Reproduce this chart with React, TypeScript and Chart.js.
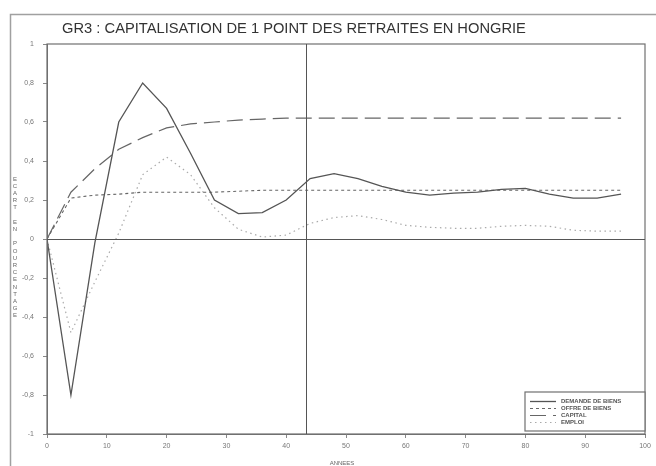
import React, { useEffect, useRef } from "react";
import { Chart, registerables } from "chart.js";

Chart.register(...registerables);

const TITLE = "GR3 : CAPITALISATION DE 1 POINT DES RETRAITES EN HONGRIE";
const Y_LABEL = "ECART EN POURCENTAGE";
const X_LABEL = "ANNEES";
const VLINE_YEAR = 43.3;

const YEARS = [0, 4, 8, 12, 16, 20, 24, 28, 32, 36, 40, 44, 48, 52, 56, 60, 64, 68, 72, 76, 80, 84, 88, 92, 96];
const DEMANDE = [0, -0.8, -0.02, 0.6, 0.8, 0.67, 0.44, 0.2, 0.13, 0.135, 0.2, 0.31, 0.335, 0.31, 0.27, 0.24, 0.225, 0.235, 0.24, 0.255, 0.26, 0.23, 0.21, 0.21, 0.23];
const OFFRE = [0, 0.21, 0.225, 0.23, 0.24, 0.24, 0.24, 0.24, 0.245, 0.25, 0.25, 0.25, 0.25, 0.25, 0.25, 0.25, 0.25, 0.25, 0.25, 0.25, 0.25, 0.25, 0.25, 0.25, 0.25];
const CAPITAL = [0, 0.24, 0.36, 0.46, 0.52, 0.57, 0.59, 0.6, 0.61, 0.615, 0.62, 0.62, 0.62, 0.62, 0.62, 0.62, 0.62, 0.62, 0.62, 0.62, 0.62, 0.62, 0.62, 0.62, 0.62];
const EMPLOI = [0, -0.48, -0.22, 0.03, 0.33, 0.42, 0.33, 0.16, 0.05, 0.01, 0.02, 0.08, 0.11, 0.12, 0.1, 0.07, 0.06, 0.055, 0.055, 0.065, 0.07, 0.065, 0.045, 0.04, 0.04];

const SERIES_NAMES = ["DEMANDE DE BIENS", "OFFRE DE BIENS", "CAPITAL", "EMPLOI"];
const Y_TICKS = [-1, -0.8, -0.6, -0.4, -0.2, 0, 0.2, 0.4, 0.6, 0.8, 1];
const X_TICKS = [0, 10, 20, 30, 40, 50, 60, 70, 80, 90, 100];

const fmt = (v: number) => {
  const r = Math.round(v * 10) / 10;
  if (Number.isInteger(r)) return String(r);
  return r.toFixed(1).replace(".", ",");
};

const decorPlugin = {
  id: "decor",
  beforeDraw(chart: any) {
    const ctx = chart.ctx;
    ctx.save();
    ctx.fillStyle = "#ffffff";
    ctx.fillRect(0, 0, chart.width, chart.height);
    ctx.restore();
  },
  afterDatasetsDraw(chart: any) {
    const ctx = chart.ctx;
    const a = chart.chartArea;
    const xs = chart.scales.x;
    const ys = chart.scales.y;
    ctx.save();
    // outer frame
    ctx.strokeStyle = "#a0a0a0";
    ctx.lineWidth = 1.5;
    ctx.beginPath();
    ctx.moveTo(10.5, chart.height);
    ctx.lineTo(10.5, 14.5);
    ctx.lineTo(chart.width, 14.5);
    ctx.stroke();
    // plot box
    ctx.strokeStyle = "#707070";
    ctx.lineWidth = 1.2;
    ctx.strokeRect(a.left, a.top, a.right - a.left, a.bottom - a.top);
    // zero line & vertical line
    ctx.strokeStyle = "#555555";
    ctx.lineWidth = 1;
    const y0 = Math.round(ys.getPixelForValue(0)) + 0.5;
    ctx.beginPath();
    ctx.moveTo(a.left, y0);
    ctx.lineTo(a.right, y0);
    ctx.stroke();
    const xv = Math.round(xs.getPixelForValue(VLINE_YEAR)) + 0.5;
    ctx.beginPath();
    ctx.moveTo(xv, a.top);
    ctx.lineTo(xv, a.bottom);
    ctx.stroke();
    // title
    ctx.fillStyle = "#333333";
    ctx.font = "14.7px 'Liberation Sans', Arial, sans-serif";
    ctx.textAlign = "center";
    ctx.textBaseline = "middle";
    ctx.fillText(TITLE, 294, 29);
    // y label stacked
    ctx.font = "6px 'Liberation Sans', Arial, sans-serif";
    ctx.fillStyle = "#666666";
    const chars = Y_LABEL.split("");
    chars.forEach((c, i) => {
      ctx.fillText(c, 15, 179 + i * 7.2);
    });
    // x label
    ctx.fillText(X_LABEL, 342, 463);
    // legend
    const lx = 525, ly = 392, lw = 120, lh = 39;
    ctx.fillStyle = "#ffffff";
    ctx.fillRect(lx, ly, lw, lh);
    ctx.strokeStyle = "#707070";
    ctx.lineWidth = 1.2;
    ctx.strokeRect(lx, ly, lw, lh);
    const rows = [401, 408, 415, 422];
    chart.data.datasets.forEach((ds: any, i: number) => {
      ctx.save();
      ctx.strokeStyle = ds.borderColor;
      ctx.lineWidth = ds.borderWidth;
      ctx.setLineDash(ds.borderDash || []);
      ctx.beginPath();
      ctx.moveTo(530, rows[i] + 0.5);
      ctx.lineTo(556, rows[i] + 0.5);
      ctx.stroke();
      ctx.restore();
      ctx.fillStyle = "#555555";
      ctx.font = "bold 6px 'Liberation Sans', Arial, sans-serif";
      ctx.textAlign = "left";
      ctx.fillText(ds.label, 561, rows[i]);
    });
    ctx.restore();
  },
};

export default function App() {
  const ref = useRef<HTMLCanvasElement | null>(null);
  useEffect(() => {
    document.body.style.margin = "0";
    const mk = (vals: number[]) => YEARS.map((x, i) => ({ x, y: vals[i] }));
    const chart = new Chart(ref.current as HTMLCanvasElement, {
      type: "line",
      data: {
        datasets: [
          { label: SERIES_NAMES[0], data: mk(DEMANDE), borderColor: "#555555", borderWidth: 1.3, borderDash: [], pointRadius: 0, tension: 0, fill: false },
          { label: SERIES_NAMES[1], data: mk(OFFRE), borderColor: "#666666", borderWidth: 1.1, borderDash: [3, 3], pointRadius: 0, tension: 0, fill: false },
          { label: SERIES_NAMES[2], data: mk(CAPITAL), borderColor: "#666666", borderWidth: 1.2, borderDash: [16, 7], pointRadius: 0, tension: 0, fill: false },
          { label: SERIES_NAMES[3], data: mk(EMPLOI), borderColor: "#aaaaaa", borderWidth: 1.2, borderDash: [1.5, 3.5], pointRadius: 0, tension: 0, fill: false },
        ],
      },
      options: {
        responsive: false,
        animation: false,
        layout: { padding: { top: 44, right: 11, left: 0, bottom: 0 } },
        plugins: { legend: { display: false }, title: { display: false }, tooltip: { enabled: false } },
        scales: {
          x: {
            type: "linear",
            min: 0,
            max: 100,
            afterBuildTicks: (s: any) => { s.ticks = X_TICKS.map((v) => ({ value: v })); },
            afterFit: (s: any) => { s.height = 32; },
            ticks: { color: "#777777", font: { size: 7, family: "'Liberation Sans', Arial" }, padding: 4, maxRotation: 0, callback: (v: any) => String(v) },
            grid: { display: true, drawOnChartArea: false, tickLength: 4, color: "#888888" },
            border: { display: true, color: "#707070" },
          },
          y: {
            type: "linear",
            min: -1,
            max: 1,
            afterBuildTicks: (s: any) => { s.ticks = Y_TICKS.map((v) => ({ value: v })); },
            afterFit: (s: any) => { s.width = 47; },
            ticks: { color: "#777777", font: { size: 7, family: "'Liberation Sans', Arial" }, padding: 9, callback: (v: any) => fmt(Number(v)) },
            grid: { display: true, drawOnChartArea: false, tickLength: 4, color: "#888888" },
            border: { display: true, color: "#707070" },
          },
        },
      },
      plugins: [decorPlugin],
    } as any);
    return () => chart.destroy();
  }, []);
  return (
    <div style={{ width: 656, height: 466 }}>
      <canvas ref={ref} width={656} height={466} style={{ display: "block" }} />
    </div>
  );
}
